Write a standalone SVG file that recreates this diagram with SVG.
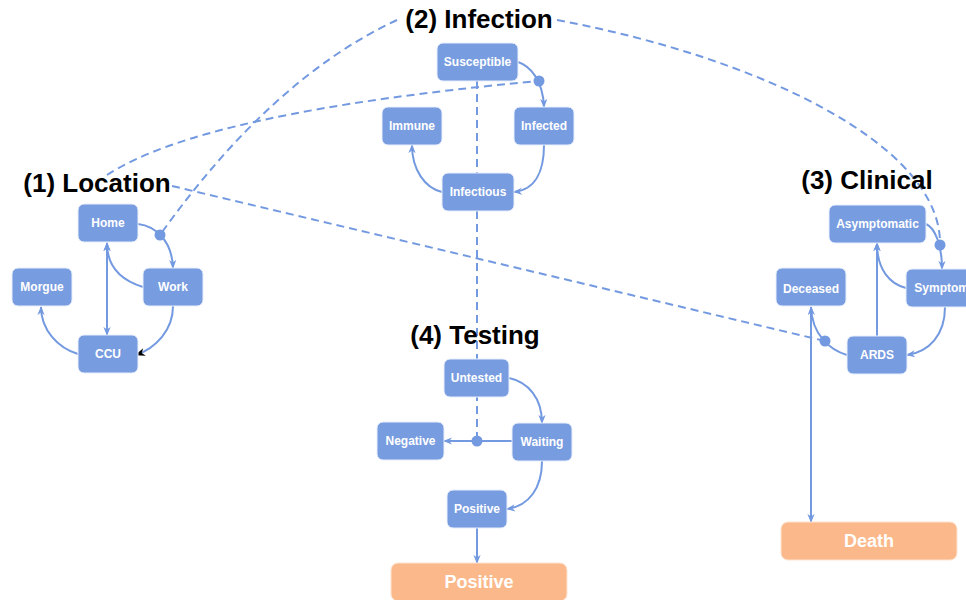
<svg xmlns="http://www.w3.org/2000/svg" width="966" height="600" viewBox="0 0 966 600">
<style>
.node rect{fill:#789ce0;stroke:#e8eefb;stroke-width:1}
.node text{fill:#fff;font-family:"Liberation Sans",Arial,sans-serif;font-weight:700;font-size:12px;text-anchor:middle}
.term rect{fill:#fbb98b;stroke:#fde3d1;stroke-width:1}
.term text{fill:#fff;font-family:"Liberation Sans",Arial,sans-serif;font-weight:700;font-size:18px;text-anchor:middle}
.title{fill:#000;font-family:"Liberation Sans",Arial,sans-serif;font-weight:700;font-size:26px;text-anchor:middle}
.edge{fill:none;stroke:#7399e0;stroke-width:2}
.dash{fill:none;stroke:#7399e0;stroke-width:2;stroke-dasharray:8 5}
.dot{fill:#7399e0}
</style>
<defs>
<marker id="arr" viewBox="0 0 10 10" refX="9" refY="5" markerWidth="9" markerHeight="9" markerUnits="userSpaceOnUse" orient="auto">
<path d="M0,1 L10,5 L0,9 L3,5 z" fill="#7399e0"/>
</marker>
<marker id="arrs" viewBox="0 0 10 10" refX="9" refY="5" markerWidth="9" markerHeight="9" markerUnits="userSpaceOnUse" orient="auto-start-reverse">
<path d="M0,1 L10,5 L0,9 L3,5 z" fill="#7399e0"/>
</marker>
<marker id="arrk" viewBox="0 0 10 10" refX="9" refY="5" markerWidth="10" markerHeight="10" markerUnits="userSpaceOnUse" orient="auto">
<path d="M0,1 L10,5 L0,9 L3,5 z" fill="#000"/>
</marker>
</defs>

<g id="connectors">
<path class="dash" d="M397,20 Q272,78 160,235"/>
<path class="dash" d="M557,20 C760,58 942,145 940,245"/>
<path class="dash" d="M107,175 Q203,112 539,81"/>
<path class="dash" d="M172,186 L825,341"/>
<path class="dash" d="M477,81 L477,441"/>
<path class="edge" d="M138,224 C155,226 172,240 173,268" marker-end="url(#arr)"/>
<path class="edge" d="M143,287 C120,280 107,265 107,243" marker-end="url(#arr)"/>
<path class="edge" d="M107,243 L107,335" marker-start="url(#arrs)" marker-end="url(#arrs)"/>
<path class="edge" d="M173,306 C173,330 156,348 136,355" marker-end="url(#arrk)"/>
<path class="edge" d="M78,354 C58,348 41,330 41,307" marker-end="url(#arr)"/>
<path class="edge" d="M518,62 C530,66 543,80 544,107" marker-end="url(#arr)"/>
<path class="edge" d="M544,145 C544,170 536,190 514,192" marker-end="url(#arr)"/>
<path class="edge" d="M442,192 C425,188 412,170 412,145" marker-end="url(#arr)"/>
<path class="edge" d="M926,224 C935,228 942,245 942,269" marker-end="url(#arr)"/>
<path class="edge" d="M906,288 C890,284 877,270 877,243" marker-end="url(#arr)"/>
<path class="edge" d="M877,336 L877,243" marker-end="url(#arr)"/>
<path class="edge" d="M945,307 C945,335 929,352 907,355" marker-end="url(#arr)"/>
<path class="edge" d="M847,355 C830,350 812,335 811,307" marker-end="url(#arr)"/>
<path class="edge" d="M811,307 L811,522" marker-end="url(#arr)"/>
<path class="edge" d="M509,378 C528,382 542,398 542,423" marker-end="url(#arr)"/>
<path class="edge" d="M512,441 L444,441" marker-end="url(#arr)"/>
<path class="edge" d="M542,461 C542,488 529,506 507,509" marker-end="url(#arr)"/>
<path class="edge" d="M477,528 L477,563" marker-end="url(#arr)"/>
<circle class="dot" cx="160" cy="235" r="5.5"/>
<circle class="dot" cx="539" cy="81" r="5.5"/>
<circle class="dot" cx="940" cy="245" r="5.5"/>
<circle class="dot" cx="825" cy="341" r="5.5"/>
<circle class="dot" cx="477" cy="441" r="5.5"/>
</g>

<g id="titles">
<text class="title" x="97" y="192">(1) Location</text>
<text class="title" x="479" y="28">(2) Infection</text>
<text class="title" x="867" y="189">(3) Clinical</text>
<text class="title" x="475" y="344">(4) Testing</text>
</g>

<g id="home" class="node"><rect x="78" y="204" width="60" height="38" rx="6"/><text x="108" y="227">Home</text></g>
<g id="work" class="node"><rect x="143" y="268" width="60" height="38" rx="6"/><text x="173" y="291">Work</text></g>
<g id="morgue" class="node"><rect x="12" y="268" width="60" height="38" rx="6"/><text x="42" y="291">Morgue</text></g>
<g id="ccu" class="node"><rect x="78" y="335" width="60" height="38" rx="6"/><text x="108" y="358">CCU</text></g>

<g id="susceptible" class="node"><rect x="437" y="43" width="81" height="38" rx="6"/><text x="477.5" y="66">Susceptible</text></g>
<g id="immune" class="node"><rect x="382" y="107" width="60" height="38" rx="6"/><text x="412" y="130">Immune</text></g>
<g id="infected" class="node"><rect x="514" y="107" width="60" height="38" rx="6"/><text x="544" y="130">Infected</text></g>
<g id="infectious" class="node"><rect x="442" y="173" width="72" height="38" rx="6"/><text x="478" y="196">Infectious</text></g>

<g id="asymptomatic" class="node"><rect x="829" y="205" width="97" height="38" rx="6"/><text x="877.5" y="228">Asymptomatic</text></g>
<g id="symptomatic" class="node"><rect x="906" y="269" width="92" height="38" rx="6"/><text x="952" y="292">Symptomatic</text></g>
<g id="deceased" class="node"><rect x="776" y="268" width="70" height="38" rx="6"/><text x="811" y="293">Deceased</text></g>
<g id="ards" class="node"><rect x="847" y="336" width="60" height="38" rx="6"/><text x="877" y="359">ARDS</text></g>

<g id="untested" class="node"><rect x="444" y="359" width="65" height="38" rx="6"/><text x="476.5" y="382">Untested</text></g>
<g id="negative" class="node"><rect x="377" y="422" width="67" height="38" rx="6"/><text x="410.5" y="445">Negative</text></g>
<g id="waiting" class="node"><rect x="512" y="423" width="60" height="38" rx="6"/><text x="542" y="446">Waiting</text></g>
<g id="positive" class="node"><rect x="447" y="490" width="60" height="38" rx="6"/><text x="477" y="513">Positive</text></g>

<g id="positive-final" class="term"><rect x="391" y="563" width="176" height="38" rx="7"/><text x="479" y="588">Positive</text></g>
<g id="death" class="term"><rect x="781" y="522" width="176" height="38" rx="7"/><text x="869" y="547">Death</text></g>
</svg>
